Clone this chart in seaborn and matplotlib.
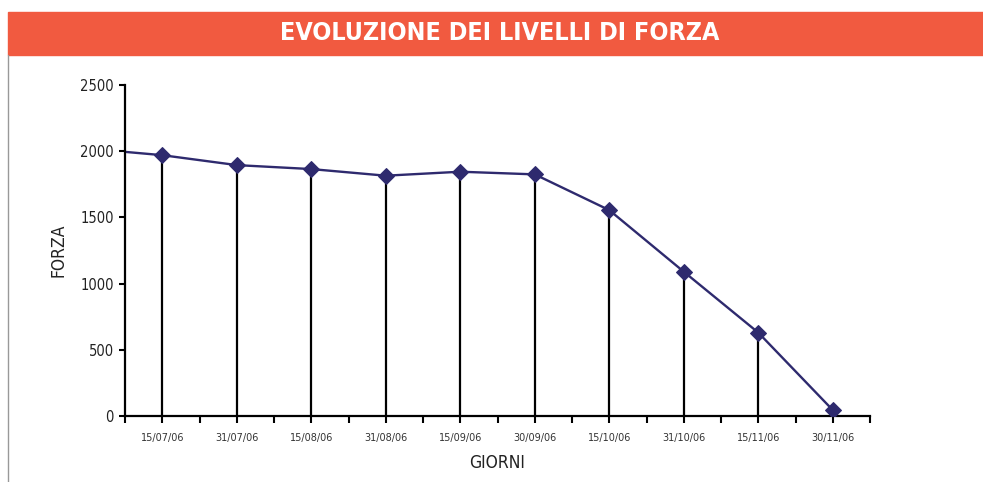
import matplotlib
matplotlib.use("Agg")
import matplotlib.pyplot as plt
import seaborn as sns
import numpy as np
import pandas as pd

# Data
giorni = ['15/07/06', '31/07/06', '15/08/06', '31/08/06', '15/09/06',
          '30/09/06', '15/10/06', '31/10/06', '15/11/06', '30/11/06']
forza = [1970, 1895, 1865, 1815, 1845, 1825, 1555, 1090, 630, 45]
forza_inizio = 1995  # value where the line meets the y axis

sns.set_theme(style="white")
plt.rcParams['font.family'] = ['DejaVu Sans']

df = pd.DataFrame({'pos': np.arange(len(giorni)), 'forza': forza})

fig = plt.figure(figsize=(9.83, 4.82), dpi=100)
ax = fig.add_axes([125 / 983, 1 - 416 / 482, 745 / 983, 331 / 482])

line_col = '#2E2A6E'

# drop lines to the axis
ax.vlines(df['pos'], 0, df['forza'], color='black', linewidth=1.6, zorder=1)

# segment from the y axis to the first point
ax.plot([-0.5, 0], [forza_inizio, forza[0]], color=line_col, linewidth=1.7, zorder=2)
sns.lineplot(data=df, x='pos', y='forza', ax=ax, color=line_col, linewidth=1.7,
             marker='D', markersize=8.5, markeredgecolor=line_col, zorder=3)

ax.set_xlim(-0.45, 9.5)
ax.set_ylim(0, 2500)
ax.set_yticks([0, 500, 1000, 1500, 2000, 2500])
ax.set_yticklabels(['0', '500', '1000', '1500', '2000', '2500'], fontsize=10.5,
                   fontstretch='condensed', color='#222222')
ax.set_xticks(df['pos'])
ax.set_xticklabels(giorni, fontsize=7, color='#333333')
ax.set_xticks(np.arange(-0.5, 10, 1), minor=True)
ax.tick_params(axis='x', which='major', direction='out', length=5, width=1.5,
               color='black', pad=7, bottom=True)
ax.tick_params(axis='x', which='minor', direction='out', length=5, width=1.5,
               color='black', bottom=True)
ax.tick_params(axis='y', direction='out', length=4, width=1.5, color='black',
               left=True, pad=4)

for side in ['top', 'right']:
    ax.spines[side].set_visible(False)
for side in ['left', 'bottom']:
    ax.spines[side].set_color('black')
    ax.spines[side].set_linewidth(1.6)

ax.set_xlabel('GIORNI', fontsize=12.5, color='#222222', fontstretch='condensed')
ax.xaxis.set_label_coords((497 - 125) / 745, -0.115)
ax.set_ylabel('FORZA', fontsize=12.5, color='#222222', fontstretch='condensed')
ax.yaxis.set_label_coords(-0.077, 0.5)

# red title banner
fig.patches.append(plt.Rectangle((8 / 983, 1 - 55 / 482), 975 / 983, 43 / 482,
                                 transform=fig.transFigure, color='#F15A40', zorder=0))
fig.text(500 / 983, 1 - 33 / 482, 'EVOLUZIONE DEI LIVELLI DI FORZA', ha='center',
         va='center', color='white', fontsize=18, fontweight='bold',
         fontstretch='condensed')
# left border line
fig.add_artist(plt.Line2D([8 / 983, 8 / 983], [0, 1 - 55 / 482],
                          transform=fig.transFigure, color='#999999', linewidth=1))

fig.savefig('out.png', dpi=100)
